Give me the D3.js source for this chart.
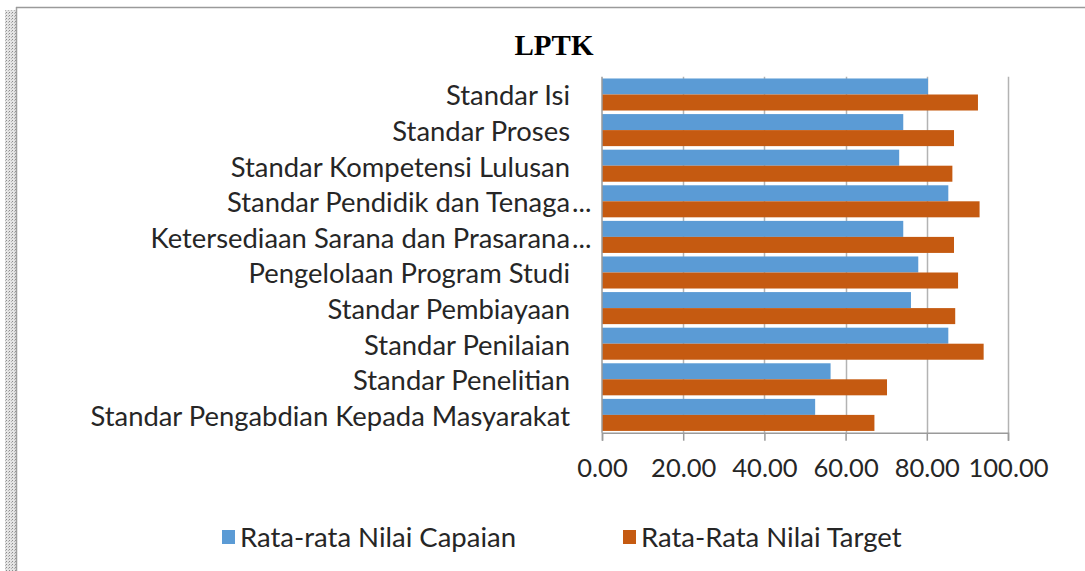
<!DOCTYPE html>
<html>
<head>
<meta charset="utf-8">
<script src="https://cdn.jsdelivr.net/npm/d3@7"></script>
<style>
  body { margin: 0; background: #fff; }
  svg { display: block; }
  .lbl { font-family: Lato, "Open Sans", sans-serif; fill: #262626; }
</style>
</head>
<body>
<div id="chart"></div>
<script>
// Data
var categories = [
  "Standar Isi",
  "Standar Proses",
  "Standar Kompetensi Lulusan",
  "Standar Pendidik dan Tenaga...",
  "Ketersediaan Sarana dan Prasarana...",
  "Pengelolaan Program Studi",
  "Standar Pembiayaan",
  "Standar Penilaian",
  "Standar Penelitian",
  "Standar Pengabdian Kepada Masyarakat"
];
var capaian = [80.3, 74.2, 73.2, 85.3, 74.2, 77.9, 76.1, 85.3, 56.3, 52.5];
var target  = [92.6, 86.7, 86.3, 93.0, 86.7, 87.7, 87.0, 94.0, 70.2, 67.1];
var xTicks = [0, 20, 40, 60, 80, 100];
var seriesNames = ["Rata-rata Nilai Capaian", "Rata-Rata Nilai Target"];
var seriesColors = ["#5B9BD5", "#C55A11"];

var svgWidth = 1085;
var svgHeight = 571;

var svg = d3.select("#chart")
  .append("svg")
  .attr("width", svgWidth)
  .attr("height", svgHeight);

// Frame: top line, dotted strip on the left
var defs = svg.append("defs");
var pat = defs.append("pattern")
  .attr("id", "dots")
  .attr("width", 3)
  .attr("height", 3)
  .attr("patternUnits", "userSpaceOnUse");
pat.append("rect").attr("width", 3).attr("height", 3).attr("fill", "#e4e4e4");
pat.append("rect").attr("width", 1).attr("height", 1).attr("fill", "#8c8c8c");
pat.append("rect").attr("x", 2).attr("y", 1).attr("width", 1).attr("height", 1).attr("fill", "#b5b5b5");

svg.append("rect")
  .attr("x", 5).attr("y", 10)
  .attr("width", 11).attr("height", svgHeight - 10)
  .attr("fill", "url(#dots)");
svg.append("line")
  .attr("x1", 16.5).attr("x2", 16.5)
  .attr("y1", 7).attr("y2", svgHeight)
  .attr("stroke", "#a0a0a0").attr("stroke-width", 1.5);
svg.append("line")
  .attr("x1", 16).attr("x2", svgWidth)
  .attr("y1", 7.5).attr("y2", 7.5)
  .attr("stroke", "#9a9a9a").attr("stroke-width", 1.5);

// Plot area
var plot = { left: 602, right: 1008, top: 76.7, bottom: 432.7 };

var x = d3.scaleLinear()
  .domain([0, 100])
  .range([plot.left, plot.right]);

var y = d3.scaleBand()
  .domain(categories)
  .range([plot.top, plot.bottom])
  .paddingInner(0.1)
  .paddingOuter(0.05);

var ySub = d3.scaleBand()
  .domain([0, 1])
  .range([0, y.bandwidth()]);

// Title
svg.append("text")
  .attr("x", 554)
  .attr("y", 55)
  .attr("text-anchor", "middle")
  .attr("font-family", "'Liberation Serif', serif")
  .attr("font-weight", "bold")
  .attr("font-size", 29)
  .attr("fill", "#000")
  .text("LPTK");

// Gridlines
svg.append("g")
  .selectAll("line")
  .data(xTicks.slice(1))
  .enter()
  .append("line")
  .attr("x1", d => Math.round(x(d)) + 0.5)
  .attr("x2", d => Math.round(x(d)) + 0.5)
  .attr("y1", plot.top)
  .attr("y2", plot.bottom)
  .attr("stroke", "#b3b3b3")
  .attr("stroke-width", 1.5);

// Bars
var rows = categories.map((c, i) => ({ cat: c, vals: [capaian[i], target[i]] }));
var rowGroups = svg.append("g")
  .selectAll("g")
  .data(rows)
  .enter()
  .append("g")
  .attr("transform", d => `translate(0, ${y(d.cat)})`);

rowGroups.selectAll("rect")
  .data(d => d.vals)
  .enter()
  .append("rect")
  .attr("x", x(0))
  .attr("y", (d, i) => ySub(i))
  .attr("width", d => x(d) - x(0))
  .attr("height", ySub.bandwidth())
  .attr("fill", (d, i) => seriesColors[i]);

// Axes
var bottomAxis = d3.axisBottom(x)
  .tickValues(xTicks)
  .tickSize(8)
  .tickFormat(d3.format(".2f"));

var xAxis = svg.append("g")
  .attr("transform", `translate(0, ${plot.bottom})`)
  .call(bottomAxis);
xAxis.select(".domain").attr("stroke", "#9a9a9a").attr("stroke-width", 1.5);
xAxis.selectAll(".tick line").attr("stroke", "#9a9a9a").attr("stroke-width", 1.5);
xAxis.selectAll(".tick text")
  .attr("class", "lbl")
  .attr("font-size", 25.5)
  .attr("y", 44)
  .attr("dy", 0);

svg.append("line")
  .attr("x1", x(0)).attr("x2", x(0))
  .attr("y1", plot.top).attr("y2", plot.bottom)
  .attr("stroke", "#9a9a9a").attr("stroke-width", 1.5);

// Category labels (truncated ones keep their dots hanging past the edge)
var labelX = 570;
var catLabels = svg.append("g")
  .selectAll("g")
  .data(categories)
  .enter()
  .append("g")
  .attr("transform", d => `translate(${labelX}, ${y(d) + y.bandwidth() / 2})`);

catLabels.append("text")
  .attr("class", "lbl")
  .attr("font-size", 27.4)
  .attr("text-anchor", "end")
  .attr("dy", "0.4em")
  .text(d => d.replace(/\.\.\.$/, ""));

catLabels.filter(d => /\.\.\.$/.test(d))
  .append("text")
  .attr("class", "lbl")
  .attr("font-size", 27.4)
  .attr("x", 2)
  .attr("dy", "0.4em")
  .text("...");

// Legend
var legendX = [222, 623];
var legend = svg.append("g")
  .selectAll("g")
  .data(seriesNames)
  .enter()
  .append("g")
  .attr("transform", (d, i) => `translate(${legendX[i]}, 537)`);

legend.append("rect")
  .attr("x", 0)
  .attr("y", -7)
  .attr("width", 13)
  .attr("height", 14)
  .attr("fill", (d, i) => seriesColors[i]);

legend.append("text")
  .attr("class", "lbl")
  .attr("x", 18)
  .attr("dy", "0.36em")
  .attr("font-size", 27.5)
  .text(d => d);
</script>
</body>
</html>
